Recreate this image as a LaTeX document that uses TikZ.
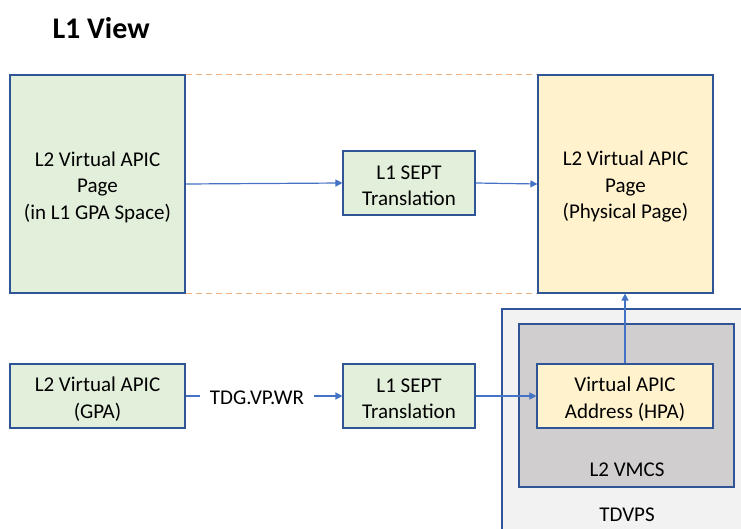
\documentclass[tikz,border=0pt]{standalone}
\usepackage{fontspec}
\setmainfont{Carlito}
\usetikzlibrary{arrows.meta}
\definecolor{bordblue}{HTML}{2F5597}
\definecolor{arrblue}{HTML}{4472C4}
\definecolor{lgreen}{HTML}{E2EFDA}
\definecolor{lyellow}{HTML}{FFF2CC}
\definecolor{lgray}{HTML}{F2F2F2}
\definecolor{mgray}{HTML}{D0CECE}
\definecolor{dorange}{HTML}{F4B183}
\tikzset{
  box/.style={draw=bordblue, line width=1.1pt, inner sep=0pt,
    label={[align=center, inner sep=0pt, yshift=-3pt, font=\fontsize{21}{26.5}\selectfont]center:#1}},
  conn/.style={draw=arrblue, line width=1.2pt, -{Triangle[length=7pt,width=7pt]}},
  plainline/.style={draw=arrblue, line width=1.2pt},
  dashline/.style={draw=dorange, line width=1.3pt, dash pattern=on 6pt off 4pt},
  lbl/.style={font=\fontsize{21}{26}\selectfont, inner sep=0pt}
}
\begin{document}
\begin{tikzpicture}[x=1pt,y=-1pt]
\useasboundingbox (0,0) rectangle (741,529);
\node[font=\fontsize{30}{34}\selectfont\bfseries, anchor=west] (title) at (49,28) {L1 View};
% TDVPS container
\fill[lgray] (502,309) rectangle (760,545);
\draw[bordblue, line width=1.1pt] (502,545) -- (502,309) -- (760,309);
\node[lbl] (tdvps) at (627,515) {TDVPS};
\node[draw=bordblue, line width=1.1pt, fill=mgray, minimum width=215pt, minimum height=163pt] (vmcs) at (626.5,405.5) {};
\node[lbl] (vmcslbl) at (627,470) {L2 VMCS};
% top row
\node[box={L2 Virtual APIC\\Page\\(in L1 GPA Space)}, fill=lgreen, minimum width=175pt, minimum height=218pt] (gpa) at (97.5,184) {};
\node[box={L1 SEPT\\Translation}, fill=lgreen, minimum width=132pt, minimum height=64pt] (sept1) at (409,183) {};
\node[box={L2 Virtual APIC\\Page\\(Physical Page)}, fill=lyellow, minimum width=175pt, minimum height=218pt] (phys) at (625.5,184) {};
% bottom row
\node[box={L2 Virtual APIC\\(GPA)}, fill=lgreen, minimum width=175pt, minimum height=64pt] (gpa2) at (97.5,396) {};
\node[lbl, fill=white, inner xsep=10pt] (tdg) at (257,398) {TDG.VP.WR};
\node[box={L1 SEPT\\Translation}, fill=lgreen, minimum width=132pt, minimum height=64pt] (sept2) at (409,396) {};
\node[box={Virtual APIC\\Address (HPA)}, fill=lyellow, minimum width=176pt, minimum height=64pt] (vaa) at (625,396) {};
% dashed lines
\draw[dashline] (gpa.north east) -- (phys.north west);
\draw[dashline] (gpa.south east) -- (phys.south west);
% connectors
\draw[conn] (gpa.east) -- (sept1.west);
\draw[conn] (sept1.east) -- (phys.west);
\draw[plainline] (gpa2.east) -- (tdg.west |- gpa2.east);
\draw[conn] (tdg.east |- sept2.west) -- (sept2.west);
\draw[conn] (sept2.east) -- (vaa.west);
\draw[conn] (vaa.north) -- (vaa.north |- phys.south);
\end{tikzpicture}
\end{document}
